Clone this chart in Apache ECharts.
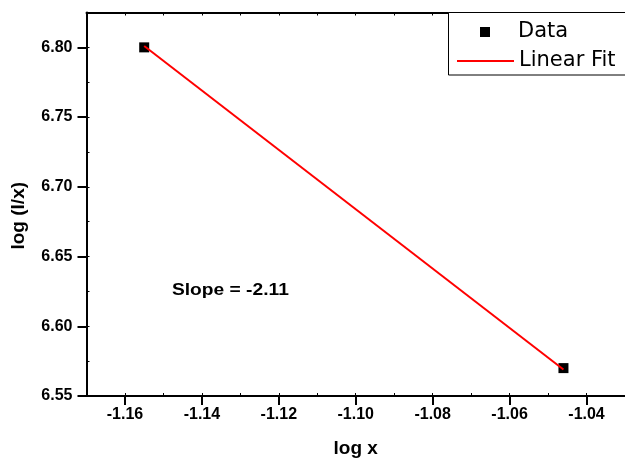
<!DOCTYPE html>
<html>
<head>
<meta charset="utf-8">
<script src="https://cdn.jsdelivr.net/npm/echarts@6/dist/echarts.min.js"></script>
<style>
  html, body { margin: 0; background: #fff; }
  #chart { width: 625px; height: 463px; }
</style>
</head>
<body>
<div id="chart"></div>
<script>
// values
const logX = [-1.155, -1.046];
const logIx = [6.800, 6.570];
const fitX = [-1.155, -1.046];
const fitY = [6.801, 6.569];
const xTicks = [-1.16, -1.14, -1.12, -1.10, -1.08, -1.06, -1.04];
const yTicks = [6.55, 6.60, 6.65, 6.70, 6.75, 6.80];
const slopeText = 'Slope = -2.11';
const slopeAt = [-1.1478, 6.626]; // data position of the annotation's left/middle

const BOLD = '"Liberation Sans", Arial, sans-serif';
const black = '#000';

const zip = (xs, ys) => xs.map((x, i) => [x, ys[i]]);
const fmt2 = (v) => Number(v).toFixed(2);

const tickLabel = { color: black, fontFamily: BOLD, fontWeight: 'bold', fontSize: 16 };
const legendText = { color: black, fontFamily: '"DejaVu Sans", sans-serif', fontSize: 21, lineHeight: 21 };

// minor ticks point inward while major ones point out, so they live on overlay axes
const innerTicks = (extra) => Object.assign({
  type: 'value',
  axisLine: { show: false },
  axisTick: { show: true, inside: true, length: 3, lineStyle: { color: black, width: 1 } },
  axisLabel: { show: false },
  splitLine: { show: false },
}, extra);

const option = {
  animation: false,
  backgroundColor: '#fff',
  grid: { left: 86.5, right: -4.5, top: 12.5, bottom: 63.5, containLabel: false },
  xAxis: [
    {
      type: 'value', position: 'bottom', min: -1.17, max: -1.03,
      name: 'log x', nameLocation: 'middle', nameGap: 43,
      nameTextStyle: { color: black, fontFamily: BOLD, fontWeight: 'bold', fontSize: 19 },
      axisLine: { lineStyle: { color: black, width: 2 } },
      axisTick: { customValues: xTicks, length: 9, lineStyle: { color: black, width: 2 } },
      axisLabel: Object.assign({ customValues: xTicks, formatter: fmt2, margin: 11 }, tickLabel),
      splitLine: { show: false },
    },
    innerTicks({ position: 'bottom', min: -1.17, max: -1.03, interval: 0.01 }),
    innerTicks({
      position: 'top', min: -1.17, max: -1.03, interval: 0.01,
      axisLine: { show: true, lineStyle: { color: black, width: 2 } },
    }),
  ],
  yAxis: [
    {
      type: 'value', position: 'left', min: 6.55, max: 6.825,
      name: 'log (I/x)', nameLocation: 'middle', nameGap: 58,
      nameTextStyle: {
        color: black, fontFamily: BOLD, fontWeight: 'bold', fontSize: 19,
        padding: [0, 23, 0, 0],
      },
      axisLine: { lineStyle: { color: black, width: 2 } },
      axisTick: { customValues: yTicks, length: 9, lineStyle: { color: black, width: 2 } },
      axisLabel: Object.assign({ customValues: yTicks, formatter: fmt2, margin: 14 }, tickLabel),
      splitLine: { show: false },
    },
    innerTicks({ position: 'left', min: 6.55, max: 6.825, interval: 0.025 }),
  ],
  // two legends so the square and the line can have different icon widths;
  // the frame (open to the right, where the export was cropped) is a graphic rect
  legend: [
    {
      left: 480, top: 21.5, padding: 0,
      itemWidth: 10, itemHeight: 10,
      textStyle: Object.assign({ padding: [0, 0, 0, 23] }, legendText),
      data: [{ name: 'Data', icon: 'rect' }],
    },
    {
      left: 456, top: 50.5, padding: 0,
      itemWidth: 57, itemHeight: 10,
      textStyle: legendText,
      data: [{ name: 'Linear Fit', itemStyle: { opacity: 0 } }],
    },
  ],
  graphic: [{
    id: 'legendBox', type: 'rect', z: 3,
    shape: { x: 448.5, y: 12.5, width: 260, height: 62.5 },
    style: { fill: '#fff', stroke: black, lineWidth: 1 },
  }],
  series: [
    {
      name: 'Data', type: 'scatter', xAxisIndex: 0, yAxisIndex: 0,
      data: zip(logX, logIx),
      symbol: 'rect', symbolSize: 10,
      itemStyle: { color: black, opacity: 1 },
      z: 2,
    },
    {
      name: 'Linear Fit', type: 'line', xAxisIndex: 0, yAxisIndex: 0,
      data: zip(fitX, fitY),
      symbol: 'none', color: '#ff0000',
      lineStyle: { color: '#ff0000', width: 2 },
      z: 3,
    },
  ],
};

const chart = echarts.init(document.getElementById('chart'), null, { renderer: 'canvas' });
chart.setOption(option);

// annotation placed through the axes, slightly widened like the original export
const [sx, sy] = chart.convertToPixel({ xAxisIndex: 0, yAxisIndex: 0 }, slopeAt);
chart.setOption({
  graphic: [{
    id: 'slope', type: 'text', x: sx, y: sy, scaleX: 1.13, z: 10,
    style: {
      text: slopeText, fill: black,
      font: 'bold 17px "Liberation Sans", Arial, sans-serif',
      align: 'left', verticalAlign: 'middle',
      textAlign: 'left', textVerticalAlign: 'middle',
    },
  }],
});
</script>
</body>
</html>
